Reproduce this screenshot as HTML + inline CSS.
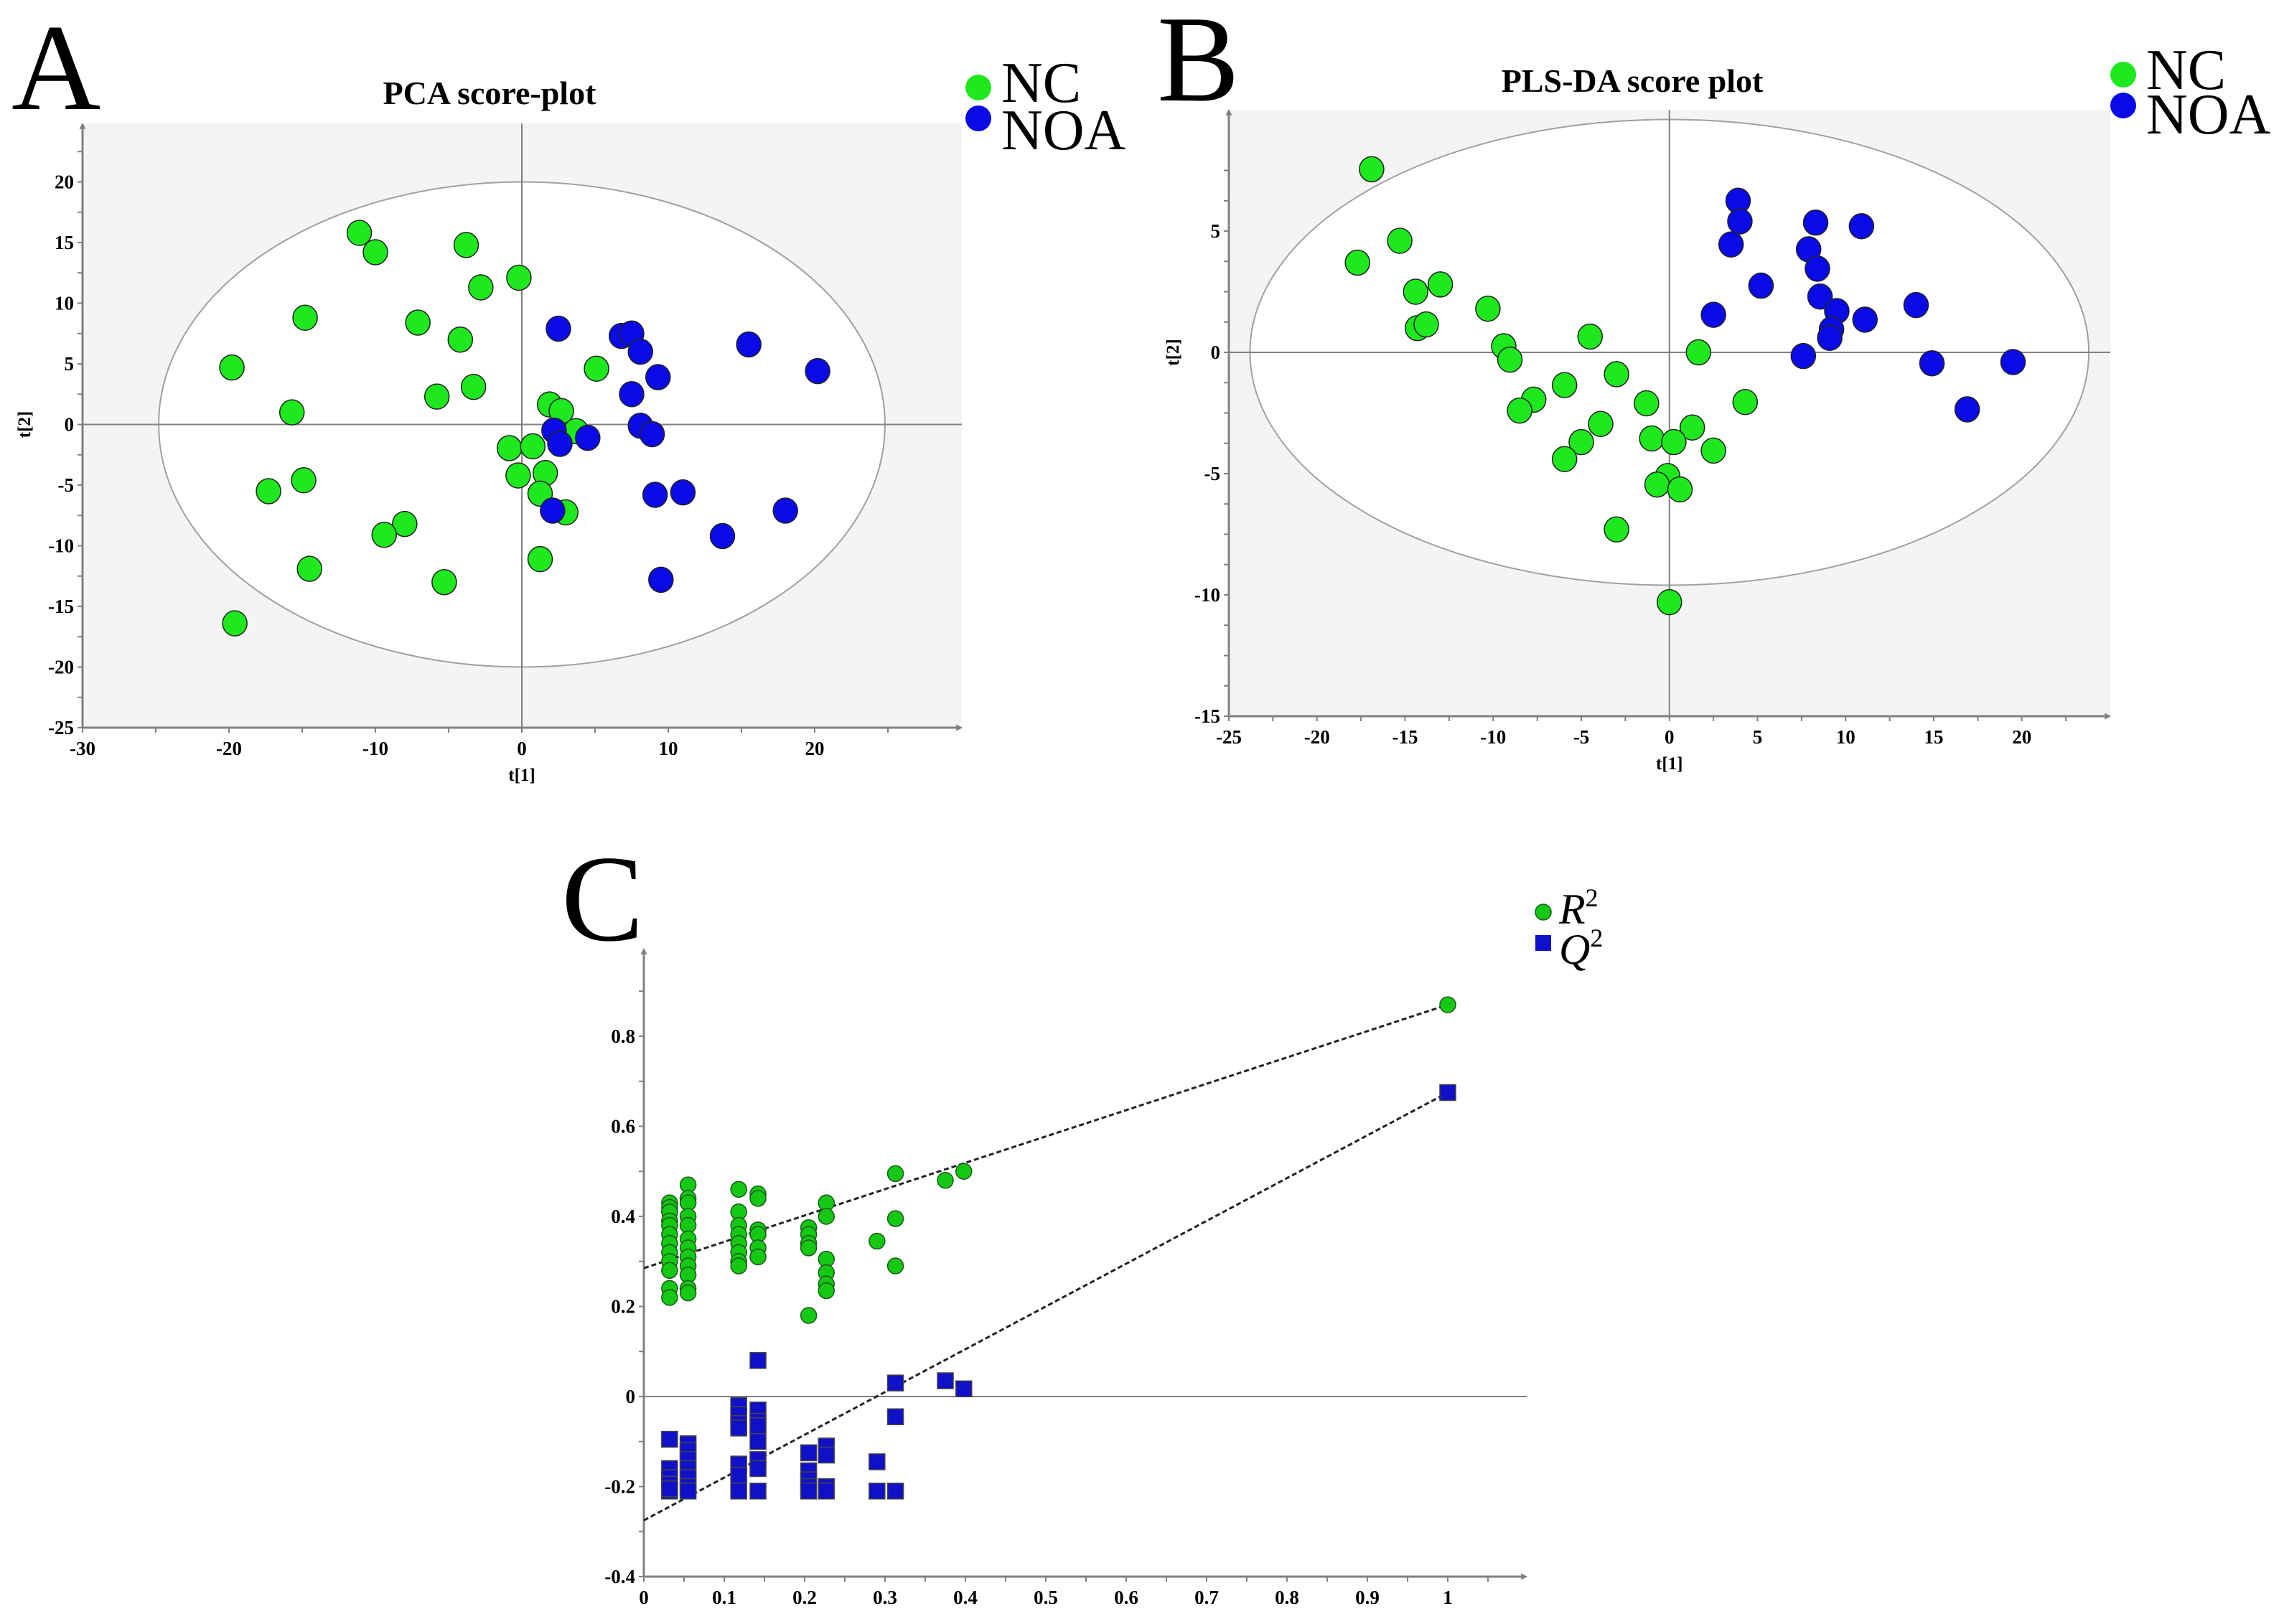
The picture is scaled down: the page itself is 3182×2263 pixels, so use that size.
<!DOCTYPE html>
<html><head><meta charset="utf-8"><style>
html,body{margin:0;padding:0;background:#fff}
svg{display:block}
text{font-family:"Liberation Serif",serif}
</style></head><body>
<svg id="fig" width="3182" height="2263" viewBox="0 0 3182 2263" xmlns="http://www.w3.org/2000/svg" font-family="Liberation Serif, serif">
<defs>
<marker id="arr" viewBox="0 0 10 10" refX="2" refY="5" markerWidth="9" markerHeight="9" markerUnits="userSpaceOnUse" orient="auto"><path d="M0,0 L10,5 L0,10 z" fill="#808080"/></marker>
</defs>
<g id="pA"></g>
<g id="pB"></g>
<g id="pC"></g>
</svg>
<script>
// ---- Panel A data ----
const aNCx=[-11.1,-10,-3.8,-0.2,-2.8,-14.8,-7.1,-4.2,-19.8,5.1,-5.8,-3.3,-15.7,1.9,2.7,3.7,-0.85,0.75,-0.25,1.6,-14.9,-17.3,1.25,3.0,-8.0,-9.4,1.25,-14.5,-5.3,-19.6];
const aNCy=[15.8,14.2,14.8,12.1,11.3,8.8,8.4,7.0,4.7,4.6,2.3,3.1,1.0,1.65,1.1,-0.55,-1.95,-1.8,-4.2,-4.0,-4.6,-5.5,-5.7,-7.25,-8.2,-9.1,-11.1,-11.9,-13.0,-16.4];
const aNOAx=[2.5,6.8,7.5,8.1,15.5,20.2,9.3,7.5,8.1,8.9,2.2,2.6,4.5,9.1,11.0,2.1,18.0,13.7,9.5];
const aNOAy=[7.9,7.3,7.5,6.0,6.6,4.4,3.9,2.5,-0.1,-0.8,-0.5,-1.6,-1.1,-5.8,-5.6,-7.1,-7.1,-9.2,-12.8];
const aXTicks=[-30,-20,-10,0,10,20];
const aYTicks=[20,15,10,5,0,-5,-10,-15,-20,-25];
// ---- Panel B data ----
const bNCx=[-16.9,-15.3,-17.7,-14.4,-13.0,-14.3,-13.8,-10.3,-9.4,-9.05,-4.5,1.65,-3.0,-5.95,-7.7,-8.5,-1.3,4.3,-3.9,1.3,-1.0,0.25,-5.0,-5.95,2.5,-0.1,-0.7,0.6,-3.0,0];
const bNCy=[7.55,4.6,3.7,2.5,2.8,1.0,1.15,1.8,0.25,-0.3,0.65,0,-0.9,-1.35,-1.95,-2.4,-2.1,-2.05,-2.95,-3.1,-3.55,-3.7,-3.7,-4.4,-4.05,-5.1,-5.45,-5.65,-7.3,-10.3];
const bNOAx=[3.9,4.0,3.5,8.3,10.9,7.9,8.4,5.2,8.55,2.5,9.5,11.1,14.0,9.2,9.1,7.6,14.9,19.5,16.9];
const bNOAy=[6.25,5.4,4.45,5.35,5.2,4.25,3.45,2.75,2.3,1.55,1.7,1.35,1.95,0.95,0.6,-0.15,-0.45,-0.4,-2.35];
const bXTicks=[-25,-20,-15,-10,-5,0,5,10,15,20];
const bYTicks=[5,0,-5,-10,-15];
// ---- Panel C data ----
const cR2x=[0.032,0.032,0.032,0.032,0.032,0.032,0.032,0.032,0.032,0.032,0.032,0.032,0.055,0.055,0.055,0.055,0.055,0.055,0.055,0.055,0.055,0.055,0.055,0.055,0.118,0.118,0.118,0.118,0.118,0.118,0.118,0.118,0.142,0.142,0.142,0.142,0.142,0.142,0.205,0.205,0.205,0.205,0.205,0.227,0.227,0.227,0.227,0.227,0.227,0.29,0.313,0.313,0.313,0.375,0.398,1];
const cR2y=[0.43,0.42,0.41,0.39,0.38,0.36,0.34,0.32,0.30,0.28,0.24,0.22,0.47,0.44,0.43,0.40,0.38,0.35,0.33,0.31,0.29,0.27,0.24,0.23,0.46,0.41,0.38,0.36,0.34,0.32,0.30,0.29,0.45,0.44,0.37,0.36,0.33,0.31,0.375,0.36,0.34,0.33,0.18,0.43,0.40,0.305,0.275,0.25,0.235,0.345,0.495,0.395,0.29,0.48,0.50,0.87];
const cQ2x=[0.032,0.032,0.032,0.032,0.032,0.032,0.055,0.055,0.055,0.055,0.055,0.055,0.055,0.118,0.118,0.118,0.118,0.118,0.118,0.118,0.142,0.142,0.142,0.142,0.142,0.142,0.142,0.142,0.205,0.205,0.205,0.205,0.205,0.227,0.227,0.227,0.227,0.29,0.29,0.313,0.313,0.313,0.375,0.398,1];
const cQ2y=[-0.095,-0.16,-0.18,-0.195,-0.21,-0.205,-0.105,-0.12,-0.14,-0.16,-0.18,-0.2,-0.21,-0.02,-0.04,-0.06,-0.07,-0.15,-0.175,-0.21,0.08,-0.03,-0.055,-0.065,-0.1,-0.14,-0.16,-0.21,-0.125,-0.165,-0.185,-0.2,-0.21,-0.11,-0.13,-0.2,-0.21,-0.145,-0.21,0.03,-0.045,-0.21,0.035,0.017,0.675];
const cR2line=[0.285,0.87];
const cQ2line=[-0.275,0.675];
const cXTicks=[0,0.1,0.2,0.3,0.4,0.5,0.6,0.7,0.8,0.9,1];
const cYTicks=[0.8,0.6,0.4,0.2,0,-0.2,-0.4];

const NS='http://www.w3.org/2000/svg';
function mk(parent,tag,attrs){const e=document.createElementNS(NS,tag);for(const k in attrs)e.setAttribute(k,attrs[k]);parent.appendChild(e);return e;}
function txt(parent,s,attrs){attrs['font-family']='Liberation Serif, serif';const e=mk(parent,'text',attrs);e.textContent=s;return e;}
const GREEN='#1ee81e',BLUE='#0a0ae6';

function scatterPanel(g,cfg){
  const X=v=>cfg.x0+(v-cfg.xmin)*cfg.xs, Y=v=>cfg.y0-(v-cfg.ymin)*cfg.ys;
  const bg=mk(g,'rect',{x:cfg.bx0,y:cfg.by0,width:cfg.bx1-cfg.bx0,height:cfg.by1-cfg.by0,fill:'#f4f4f4'});
  
  
  const el=mk(g,'ellipse',{cx:X(0),cy:Y(0),rx:cfg.erx*cfg.xs,ry:cfg.ery*cfg.ys,fill:'#fff',stroke:'#a0a0a0','stroke-width':2});
  
  
  const zl=mk(g,'line',{x1:cfg.bx0,x2:cfg.bx1,y1:Y(0),y2:Y(0),stroke:'#808080','stroke-width':2});
  
  
  const zv=mk(g,'line',{x1:X(0),x2:X(0),y1:cfg.by0,y2:cfg.by1,stroke:'#808080','stroke-width':2});
  
  
  const xa=mk(g,'line',{x1:cfg.bx0,x2:cfg.bx1-6,y1:cfg.by1,y2:cfg.by1,stroke:'#808080','stroke-width':3,'marker-end':'url(#arr)'});
  
  
  const ya=mk(g,'line',{x1:cfg.bx0,x2:cfg.bx0,y1:cfg.by1,y2:cfg.by0+6,stroke:'#808080','stroke-width':3,'marker-end':'url(#arr)'});
  
  
  for(let v=cfg.xmin;v<=cfg.xmaxTick+1e-9;v+=cfg.xminor){mk(g,'line',{x1:X(v),x2:X(v),y1:cfg.by1,y2:cfg.by1+7,stroke:'#808080','stroke-width':2});}
  for(let v=cfg.ymin;v<=cfg.ymaxTick+1e-9;v+=cfg.yminor){mk(g,'line',{x1:cfg.bx0-7,x2:cfg.bx0,y1:Y(v),y2:Y(v),stroke:'#808080','stroke-width':2});}
  cfg.xt.forEach(v=>{const t=txt(g,String(v),{x:X(v),y:cfg.by1+38,'font-size':27,'font-weight':'bold','text-anchor':'middle'});
    
    });
  cfg.yt.forEach(v=>{const t=txt(g,String(v),{x:cfg.bx0-12,y:Y(v)+9,'font-size':27,'font-weight':'bold','text-anchor':'end'});
    
    });
  const xl=txt(g,'t[1]',{x:X(0),y:cfg.by1+74,'font-size':25,'font-weight':'bold','text-anchor':'middle'});
  
  
  const yl=txt(g,'t[2]',{x:0,y:0,'font-size':25,'font-weight':'bold','text-anchor':'middle',transform:`translate(${cfg.ylx},${Y(0)}) rotate(-90)`});
  
  
  const series=[[cfg.ncx,cfg.ncy,GREEN,'nc-point'],[cfg.nox,cfg.noy,BLUE,'noa-point']];
  series.forEach(([xs,ys,col,nm])=>{xs.forEach((v,i)=>{const c=mk(g,'ellipse',{cx:X(v),cy:Y(ys[i]),rx:17,ry:17.5,fill:col,stroke:'#202020','stroke-width':1.5});
    
    });});
  const ti=txt(g,cfg.title,{x:cfg.tx,y:cfg.ty,'font-size':46,'font-weight':'bold','text-anchor':'middle'});
  
  
  const pl=txt(g,cfg.letter,{x:cfg.lx,y:cfg.ly,'font-size':172});
  
  
  const lg=mk(g,'g',{});
  
  
  const c1=mk(lg,'circle',{cx:cfg.legx,cy:cfg.legy,r:18,fill:GREEN});
  
  
  const t1=txt(lg,'NC',{x:cfg.legx+32,y:cfg.legy+20,'font-size':80});
  
  
  const c2=mk(lg,'circle',{cx:cfg.legx,cy:cfg.legy+43,r:18,fill:BLUE});
  
  
  const t2=txt(lg,'NOA',{x:cfg.legx+32,y:cfg.legy+cfg.noaDy,'font-size':80});
  
  
}

scatterPanel(document.getElementById('pA'),{x0:115,xmin:-30,xs:20.4,y0:1014,ymin:-25,ys:16.9,
  bx0:115,bx1:1340,by0:172,by1:1014,xmaxTick:25,ymaxTick:22.5,xminor:5,yminor:2.5,erx:24.8,ery:20,
  xt:aXTicks,yt:aYTicks,ylx:42,ncx:aNCx,ncy:aNCy,nox:aNOAx,noy:aNOAy,title:'PCA score-plot',tx:682,ty:145,
  letter:'A',lx:16,ly:152,legx:1363,legy:122,noaDy:86});
scatterPanel(document.getElementById('pB'),{x0:1712,xmin:-25,xs:24.55,y0:998,ymin:-15,ys:33.8,
  bx0:1712,bx1:2940,by0:153,by1:998,xmaxTick:22.5,ymaxTick:7.5,xminor:2.5,yminor:1.25,erx:23.8,ery:9.6,
  xt:bXTicks,yt:bYTicks,ylx:1642,ncx:bNCx,ncy:bNCy,nox:bNOAx,noy:bNOAy,title:'PLS-DA score plot',tx:2274,ty:128,
  letter:'B',lx:1612,ly:140,legx:2958,legy:104,noaDy:82});

(function(){
  const g=document.getElementById('pC');
  const X=v=>897+v*1120, Y=v=>1946-v*627.5;
  const zl=mk(g,'line',{x1:X(0),x2:2127,y1:Y(0),y2:Y(0),stroke:'#808080','stroke-width':2});
  
  
  const xa=mk(g,'line',{x1:X(0),x2:2121,y1:Y(-0.4),y2:Y(-0.4),stroke:'#808080','stroke-width':3,'marker-end':'url(#arr)'});
  
  
  const ya=mk(g,'line',{x1:X(0),x2:X(0),y1:Y(-0.4),y2:1328,stroke:'#808080','stroke-width':3,'marker-end':'url(#arr)'});
  
  
  for(let v=0;v<=1.08;v+=0.05){mk(g,'line',{x1:X(v),x2:X(v),y1:Y(-0.4),y2:Y(-0.4)+7,stroke:'#808080','stroke-width':2});}
  for(let v=-0.4;v<=0.92;v+=0.1){mk(g,'line',{x1:X(0)-7,x2:X(0),y1:Y(v),y2:Y(v),stroke:'#808080','stroke-width':2});}
  cXTicks.forEach(v=>{const t=txt(g,String(v),{x:X(v),y:Y(-0.4)+38,'font-size':27,'font-weight':'bold','text-anchor':'middle'});
    
    });
  cYTicks.forEach(v=>{const t=txt(g,String(v),{x:X(0)-12,y:Y(v)+9,'font-size':27,'font-weight':'bold','text-anchor':'end'});
    
    });
  const l1=mk(g,'line',{x1:X(0),y1:Y(cR2line[0]),x2:X(1),y2:Y(cR2line[1]),stroke:'#222','stroke-width':3,'stroke-dasharray':'7,4'});
  
  
  const l2=mk(g,'line',{x1:X(0),y1:Y(cQ2line[0]),x2:X(1),y2:Y(cQ2line[1]),stroke:'#222','stroke-width':3,'stroke-dasharray':'7,4'});
  
  
  cR2x.forEach((v,i)=>{const c=mk(g,'circle',{cx:X(v),cy:Y(cR2y[i]),r:11,fill:'#14c814',stroke:'#1a5a1a','stroke-width':1.5});
    
    });
  cQ2x.forEach((v,i)=>{const c=mk(g,'rect',{x:X(v)-11,y:Y(cQ2y[i])-11,width:22,height:22,fill:'#1010c8',stroke:'#444','stroke-width':1.5});
    
    });
  const pl=txt(g,'C',{x:782,y:1310,'font-size':172});
  
  
  const lg=mk(g,'g',{});
  
  
  const c1=mk(lg,'circle',{cx:2150,cy:1271,r:11,fill:'#14c814',stroke:'#1a5a1a','stroke-width':1.5});
  
  
  const t1=txt(lg,'',{x:2172,y:1287,'font-size':60,'font-style':'italic'});
  t1.innerHTML='R<tspan font-size="36" font-style="normal" dy="-24">2</tspan>';
  
  
  const s2=mk(lg,'rect',{x:2139,y:1303,width:22,height:22,fill:'#1010c8'});
  
  
  const t2=txt(lg,'',{x:2172,y:1343,'font-size':60,'font-style':'italic'});
  t2.innerHTML='Q<tspan font-size="36" font-style="normal" dy="-24">2</tspan>';
  
  
})();
</script>
</body></html>
